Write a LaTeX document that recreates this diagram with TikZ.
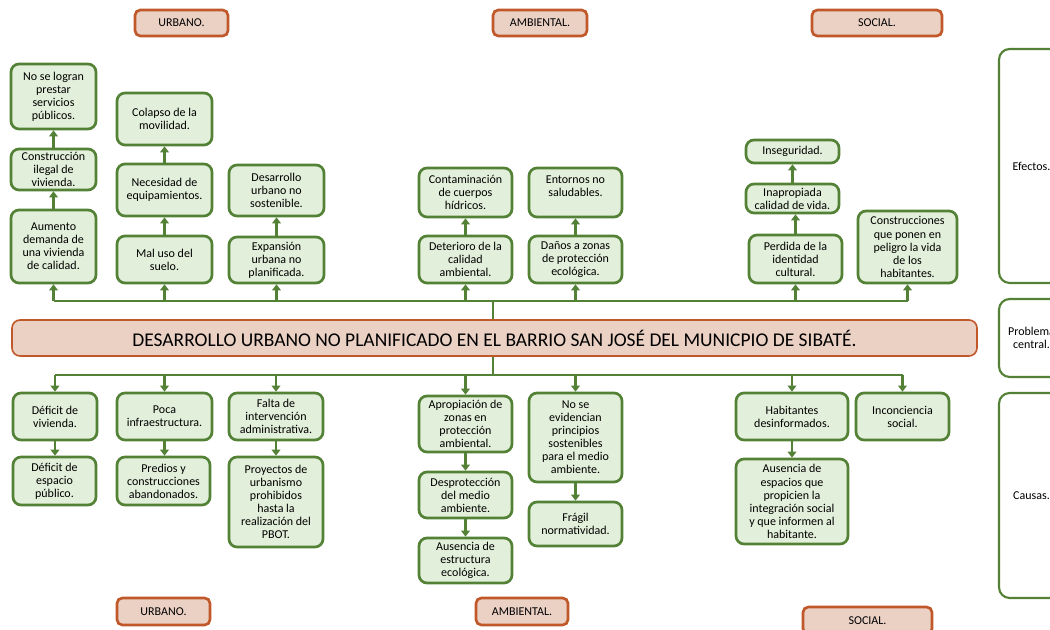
\documentclass[tikz,border=0pt]{standalone}
\usepackage{fontspec}
\setmainfont{Carlito}
\usetikzlibrary{arrows.meta}
\definecolor{gline}{HTML}{538135}
\definecolor{gfill}{HTML}{E2EFDA}
\definecolor{oline}{HTML}{C0582A}
\definecolor{ofill}{HTML}{EBD0C4}
\tikzset{
  gbox/.style={draw=gline, fill=gfill, line width=2pt, rounded corners=6pt, align=center, inner sep=1pt, font=\fontsize{9}{9.8}\selectfont},
  obox/.style={draw=oline, fill=ofill, line width=2pt, rounded corners=4pt, align=center, inner sep=1pt, font=\fontsize{9}{9.8}\selectfont},
  wbox/.style={draw=gline, fill=white, line width=1.6pt, rounded corners=8pt, align=center, inner sep=1pt, font=\fontsize{9}{10.2}\selectfont},
  tbox/.style={draw=oline, fill=ofill, line width=1.2pt, rounded corners=6pt, align=center, inner sep=1pt, font=\fontsize{14.6}{16}\selectfont},
  gl/.style={draw=gline, line width=2.2pt},
  arr/.style={draw=gline, line width=2.2pt, -{Triangle[length=4.5pt,width=6.5pt]}},
}
\newcommand\GB[7]{\node[#1, minimum width={(#5-#3)*0.75pt}, minimum height={(#6-#4)*0.75pt}] (#2) at ({(#3+#5)/2},{(#4+#6)/2}) {#7};}
\begin{document}
\begin{tikzpicture}[x=0.75pt,y=-0.75pt]
\useasboundingbox (0,0) rectangle (1050,630);
% orange category labels
\GB{obox}{o1}{135}{10}{228}{36}{URBANO.}
\GB{obox}{o2}{493}{10}{587}{36}{AMBIENTAL.}
\GB{obox}{o3}{812}{10}{942}{36}{SOCIAL.}
\GB{obox}{o4}{117}{598}{210}{625}{URBANO.}
\GB{obox}{o5}{476}{598}{568}{625}{AMBIENTAL.}
\GB{obox}{o6}{803}{607}{932}{634}{SOCIAL.}
% side boxes
\GB{wbox}{s1}{999}{49}{1064}{283}{Efectos.}
\GB{wbox}{s2}{999}{299}{1064}{377}{Problema\\central.}
\GB{wbox}{s3}{999}{393}{1064}{598}{Causas.}
% title
\GB{tbox}{title}{12}{320}{977}{356}{DESARROLLO URBANO NO PLANIFICADO EN EL BARRIO SAN JOSÉ DEL MUNICPIO DE SIBATÉ.}
% effects
\GB{gbox}{e1}{11}{64}{96}{129}{No se logran\\prestar\\servicios\\públicos.}
\GB{gbox}{e2}{11}{149}{96}{190}{Construcción\\ilegal de\\vivienda.}
\GB{gbox}{e3}{11}{210}{96}{283}{Aumento\\demanda de\\una vivienda\\de calidad.}
\GB{gbox}{e4}{117}{93}{212}{145}{Colapso de la\\movilidad.}
\GB{gbox}{e5}{117}{164}{212}{216}{Necesidad de\\equipamientos.}
\GB{gbox}{e6}{117}{236}{212}{283}{Mal uso del\\suelo.}
\GB{gbox}{e7}{229}{165}{324}{216}{Desarrollo\\urbano no\\sostenible.}
\GB{gbox}{e8}{229}{237}{324}{283}{Expansión\\urbana no\\planificada.}
\GB{gbox}{e9}{419}{168}{512}{217}{Contaminación\\de cuerpos\\hídricos.}
\GB{gbox}{e10}{529}{168}{622}{217}{Entornos no\\saludables.\\\mbox{}}
\GB{gbox}{e11}{419}{236}{512}{283}{Deterioro de la\\calidad\\ambiental.}
\GB{gbox}{e12}{529}{236}{622}{283}{Daños a zonas\\de protección\\ecológica.}
\GB{gbox}{e13}{746}{140}{839}{163}{Inseguridad.}
\GB{gbox}{e14}{746}{184}{839}{213}{Inapropiada\\calidad de vida.}
\GB{gbox}{e15}{749}{235}{842}{283}{Perdida de la\\identidad\\cultural.}
\GB{gbox}{e16}{858}{211}{957}{283}{Construcciones\\que ponen en\\peligro la vida\\de los\\habitantes.}
% causes
\GB{gbox}{c1}{13}{393}{97}{440}{Déficit de\\vivienda.}
\GB{gbox}{c2}{13}{457}{96}{505}{Déficit de\\espacio\\público.}
\GB{gbox}{c3}{117}{393}{212}{440}{Poca\\infraestructura.}
\GB{gbox}{c4}{117}{457}{210}{505}{Predios y\\construcciones\\abandonados.}
\GB{gbox}{c5}{229}{393}{323}{440}{Falta de\\intervención\\administrativa.}
\GB{gbox}{c6}{229}{457}{323}{547}{Proyectos de\\urbanismo\\prohibidos\\hasta la\\realización del\\PBOT.}
\GB{gbox}{c7}{419}{396}{512}{452}{Apropiación de\\zonas en\\protección\\ambiental.}
\GB{gbox}{c8}{419}{472}{512}{518}{Desprotección\\del medio\\ambiente.}
\GB{gbox}{c9}{419}{538}{512}{583}{Ausencia de\\estructura\\ecológica.}
\GB{gbox}{c10}{529}{393}{622}{482}{No se\\evidencian\\principios\\sostenibles\\para el medio\\ambiente.}
\GB{gbox}{c11}{529}{502}{622}{546}{Frágil\\normatividad.}
\GB{gbox}{c12}{736}{393}{848}{440}{Habitantes\\desinformados.}
\GB{gbox}{c13}{736}{459}{848}{544}{Ausencia de\\espacios que\\propicien la\\integración social\\y que informen al\\habitante.}
\GB{gbox}{c14}{856}{393}{949}{440}{Inconciencia\\social.}
% trunk lines
\coordinate (TJ) at (493,301);
\coordinate (BJ) at (493,375);
\draw[gl] (title.north -| TJ) -- (TJ);
\draw[gl] (e3.south |- TJ) -- (e16.south |- TJ);
\draw[gl] (title.south -| BJ) -- (BJ);
\draw[gl] (c1.north |- BJ) -- (c14.north |- BJ);
% effect arrows (upward)
\foreach \n in {e3,e6,e8,e11,e12,e15,e16} \draw[arr] (\n.south |- TJ) -- (\n.south);
\draw[arr] (e3.north) -- (e3.north |- e2.south);
\draw[arr] (e2.north) -- (e2.north |- e1.south);
\draw[arr] (e6.north) -- (e6.north |- e5.south);
\draw[arr] (e5.north) -- (e5.north |- e4.south);
\draw[arr] (e8.north) -- (e8.north |- e7.south);
\draw[arr] (e11.north) -- (e11.north |- e9.south);
\draw[arr] (e12.north) -- (e12.north |- e10.south);
\draw[arr] (e15.north) -- (e15.north |- e14.south);
\draw[arr] (e14.north) -- (e14.north |- e13.south);
% cause arrows (downward)
\foreach \n in {c1,c3,c5,c7,c10,c12,c14} \draw[arr] (\n.north |- BJ) -- (\n.north);
\draw[arr] (c1.south) -- (c1.south |- c2.north);
\draw[arr] (c3.south) -- (c3.south |- c4.north);
\draw[arr] (c5.south) -- (c5.south |- c6.north);
\draw[arr] (c7.south) -- (c7.south |- c8.north);
\draw[arr] (c8.south) -- (c8.south |- c9.north);
\draw[arr] (c10.south) -- (c10.south |- c11.north);
\draw[arr] (c12.south) -- (c12.south |- c13.north);
\end{tikzpicture}
\end{document}
